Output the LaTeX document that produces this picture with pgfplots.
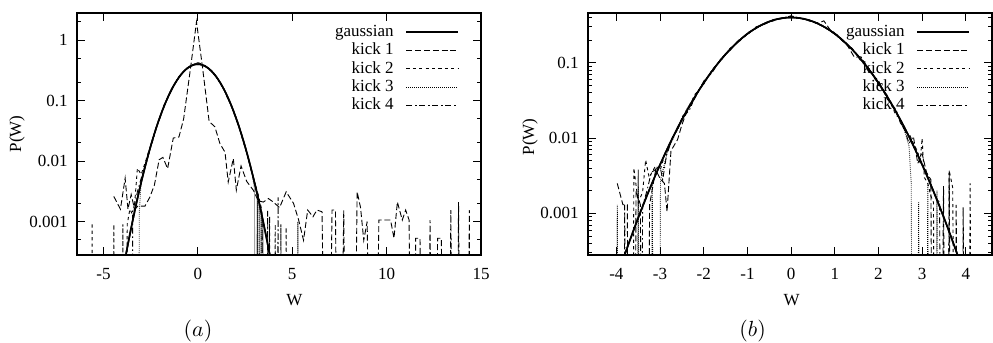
\documentclass[border=0pt]{standalone}
\usepackage[no-math]{fontspec}
\setmainfont{Liberation Serif}
\usepackage{pgfplots}
\usepackage{pgfplotstable}
\pgfplotsset{compat=1.18}

\pgfplotstableread{
W P
-4.0 0.000134
-3.9 0.000199
-3.8 0.000292
-3.7 0.000425
-3.6 0.000612
-3.5 0.000873
-3.4 0.001232
-3.3 0.001723
-3.2 0.002384
-3.1 0.003267
-3.0 0.004432
-2.9 0.00595
-2.8 0.00792
-2.7 0.01042
-2.6 0.01358
-2.5 0.01753
-2.4 0.02239
-2.3 0.02833
-2.2 0.03547
-2.1 0.04398
-2.0 0.05399
-1.9 0.06562
-1.8 0.07895
-1.7 0.09405
-1.6 0.11092
-1.5 0.12952
-1.4 0.14973
-1.3 0.17137
-1.2 0.19419
-1.1 0.21785
-1.0 0.24197
-0.9 0.26609
-0.8 0.28969
-0.7 0.31225
-0.6 0.33322
-0.5 0.35207
-0.4 0.36827
-0.3 0.38139
-0.2 0.39104
-0.1 0.39695
0.0 0.39894
0.1 0.39695
0.2 0.39104
0.3 0.38139
0.4 0.36827
0.5 0.35207
0.6 0.33322
0.7 0.31225
0.8 0.28969
0.9 0.26609
1.0 0.24197
1.1 0.21785
1.2 0.19419
1.3 0.17137
1.4 0.14973
1.5 0.12952
1.6 0.11092
1.7 0.09405
1.8 0.07895
1.9 0.06562
2.0 0.05399
2.1 0.04398
2.2 0.03547
2.3 0.02833
2.4 0.02239
2.5 0.01753
2.6 0.01358
2.7 0.01042
2.8 0.00792
2.9 0.00595
3.0 0.004432
3.1 0.003267
3.2 0.002384
3.3 0.001723
3.4 0.001232
3.5 0.000873
3.6 0.000612
3.7 0.000425
3.8 0.000292
3.9 0.000199
4.0 0.000134
}\gausstab

% ---------- panel (a) ----------
\pgfplotstableread{
W P
-4.45 0.0026
-4.1 0.0016
-3.85 0.0052
-3.7 0.0016
-3.53 0.0028
-3.35 0.0016
-3.17 0.0018
-2.8 0.0018
-2.55 0.0025
-2.3 0.004
-2.05 0.0105
-1.85 0.0115
-1.6 0.0075
-1.3 0.024
-1.0 0.025
-0.75 0.05
-0.4 0.32
-0.07 2.0
0.25 0.35
0.6 0.045
0.9 0.037
1.17 0.0195
1.44 0.014
1.61 0.0045
1.88 0.011
2.04 0.0033
2.29 0.0083
2.59 0.0046
2.94 0.0033
3.2 0.0022
3.47 0.0021
3.74 0.0024
4.0 0.0021
4.33 0.0017
4.68 0.0031
5.07 0.0020
5.34 0.00106
5.6 0.00049
5.82 0.00155
6.1 0.0012
6.31 0.00155
6.58 0.00145
6.85 1e-9
7.11 0.00155
7.29 0.00155
7.46 1e-9
7.73 0.00155
7.91 1e-9
8.2 1e-9
8.44 0.0031
8.62 0.0017
8.79 0.00049
8.97 0.001
9.24 1e-9
9.32 1e-9
9.59 0.00106
10.21 0.00106
10.39 0.00053
10.57 0.0021
10.83 0.00106
11.01 0.00155
11.19 0.00106
11.37 1e-9
11.45 1e-9
11.54 0.00053
11.77 0.00053
11.9 1e-9
12.2 1e-9
12.3 0.00106
12.48 1e-9
12.6 1e-9
12.7 0.00053
12.9 0.00053
13.05 1e-9
13.3 1e-9
13.4 0.00155
13.58 1e-9
13.7 1e-9
13.81 0.0021
13.94 1e-9
14.3 1e-9
14.38 0.00155
14.47 1e-9
}\kAone

\pgfplotstableread{
W P
-5.6 0.0009
-5.55 1e-9
-4.5 1e-9
-4.45 0.0009
-4.4 1e-9
-4.02 1e-9
-3.97 0.0009
-3.92 1e-9
-3.79 1e-9
-3.74 0.0009
-3.6 0.0016
-3.4 0.0012
-3.2 0.0076
-3.0 0.006
-2.8 0.0092
-2.6 0.0145
-2.4 0.021
-2.2 0.037
-2.0 0.052
-1.8 0.083
-1.6 0.108
-1.4 0.156
-1.2 0.19
-1.0 0.25
-0.8 0.29
-0.6 0.34
-0.4 0.37
-0.2 0.40
0 0.42
0.2 0.405
0.4 0.37
0.6 0.33
0.8 0.28
1.0 0.245
1.2 0.19
1.4 0.148
1.6 0.105
1.8 0.08
2.0 0.052
2.2 0.036
2.4 0.021
2.6 0.0135
2.8 0.0075
3.0 0.0045
3.2 0.0028
3.4 0.0015
3.5 1e-9
3.75 1e-9
3.8 0.0012
3.85 1e-9
4.05 1e-9
4.1 0.0009
4.15 1e-9
4.35 1e-9
4.4 0.0009
4.45 1e-9
4.63 1e-9
4.68 0.0008
4.73 1e-9
}\kAtwo

\pgfplotstableread{
W P
-3.15 1e-9
-3.1 0.0014
-3.0 0.0048
-2.8 0.0082
-2.6 0.0138
-2.4 0.0228
-2.2 0.035
-2.0 0.056
-1.8 0.077
-1.6 0.113
-1.4 0.148
-1.2 0.197
-1.0 0.238
-0.8 0.292
-0.6 0.33
-0.4 0.372
-0.2 0.39
0 0.43
0.2 0.39
0.4 0.365
0.6 0.335
0.8 0.29
1.0 0.24
1.2 0.195
1.4 0.152
1.6 0.11
1.8 0.078
2.0 0.055
2.2 0.035
2.4 0.023
2.6 0.0135
2.8 0.0078
2.9 0.0058
3.0 0.0035
3.05 1e-9
3.1 1e-9
3.15 0.0025
3.2 1e-9
3.25 0.0019
3.3 1e-9
3.35 0.0014
3.4 1e-9
3.45 0.0011
3.5 1e-9
5.25 1e-9
5.3 0.001
5.35 1e-9
}\kAthree

\pgfplotstableread{
W P
-3.5 1e-9
-3.45 0.0015
-3.3 0.0022
-3.2 0.0031
-3.0 0.0052
-2.8 0.0078
-2.6 0.0131
-2.4 0.022
-2.2 0.036
-2.0 0.053
-1.8 0.08
-1.6 0.11
-1.4 0.15
-1.2 0.192
-1.0 0.245
-0.8 0.287
-0.6 0.335
-0.4 0.365
-0.2 0.392
0 0.41
0.2 0.388
0.4 0.37
0.6 0.33
0.8 0.29
1.0 0.24
1.2 0.19
1.4 0.152
1.6 0.108
1.8 0.08
2.0 0.053
2.2 0.036
2.4 0.022
2.6 0.014
2.8 0.0078
3.0 0.0046
3.2 0.0026
3.3 0.0018
3.4 0.0013
3.45 1e-9
3.65 1e-9
3.7 0.0015
3.75 1e-9
4.2 1e-9
4.25 0.0025
4.3 1e-9
}\kAfour

% ---------- panel (b) ----------
\pgfplotstableread{
W P
-3.98 0.0025
-3.85 0.0013
-3.75 0.0013
-3.7 1e-9
-3.6 1e-9
-3.55 0.0020
-3.45 0.0013
-3.4 1e-9
-3.3 1e-9
-3.24 0.0013
-3.1 0.0038
-3.0 0.0029
-2.9 0.0025
-2.84 0.00105
-2.75 0.0068
-2.6 0.0095
-2.5 0.0150
-2.4 0.0215
-2.2 0.034
-2.0 0.057
-1.8 0.075
-1.6 0.115
-1.4 0.145
-1.2 0.2
-1.0 0.235
-0.8 0.3
-0.6 0.325
-0.4 0.375
-0.2 0.385
0.0 0.42
0.2 0.39
0.4 0.37
0.6 0.33
0.75 0.36
0.9 0.27
1.1 0.225
1.3 0.165
1.45 0.118
1.6 0.12
1.8 0.075
2.0 0.058
2.2 0.033
2.4 0.024
2.5 0.016
2.6 0.013
2.7 0.0085
2.8 0.0105
2.9 0.0046
3.0 0.0062
3.1 0.0035
3.2 0.0028
3.26 1e-9
3.4 1e-9
3.49 0.0023
3.55 1e-9
3.58 1e-9
3.62 0.0037
3.68 1e-9
3.74 1e-9
3.78 0.0013
3.84 1e-9
3.9 1e-9
3.94 0.0012
4.0 1e-9
}\kBone

\pgfplotstableread{
W P
-3.64 1e-9
-3.6 0.004
-3.5 0.0014
-3.4 0.0019
-3.33 0.0051
-3.25 0.0030
-3.1 0.0043
-3.0 0.0037
-2.9 0.0058
-2.8 0.0072
-2.7 0.011
-2.6 0.0125
-2.5 0.019
-2.4 0.022
-2.2 0.038
-2.0 0.052
-1.8 0.082
-1.6 0.108
-1.4 0.155
-1.2 0.188
-1.0 0.25
-0.8 0.285
-0.6 0.34
-0.4 0.36
-0.2 0.395
0 0.41
0.2 0.395
0.4 0.36
0.6 0.34
0.8 0.285
1.0 0.25
1.2 0.188
1.4 0.155
1.6 0.105
1.8 0.082
2.0 0.05
2.2 0.037
2.4 0.02
2.5 0.0185
2.6 0.012
2.7 0.0115
2.8 0.0085
2.9 0.0066
2.95 0.0045
3.0 0.0099
3.05 0.003
3.13 0.0025
3.2 0.0017
3.26 0.0014
3.3 1e-9
3.58 1e-9
3.62 0.0037
3.7 0.0022
3.78 1e-9
4.05 1e-9
4.1 0.0025
4.15 1e-9
}\kBtwo

\pgfplotstableread{
W P
-4.03 1e-9
-3.98 0.0013
-3.92 1e-9
-3.55 1e-9
-3.5 0.0038
-3.45 1e-9
-3.22 1e-9
-3.18 0.0025
-3.12 1e-9
-3.03 1e-9
-2.99 0.0028
-2.9 0.0045
-2.8 0.0078
-2.7 0.0098
-2.6 0.014
-2.5 0.0165
-2.4 0.0235
-2.2 0.036
-2.0 0.055
-1.8 0.078
-1.6 0.112
-1.4 0.148
-1.2 0.196
-1.0 0.24
-0.8 0.292
-0.6 0.33
-0.4 0.37
-0.2 0.39
0 0.40
0.2 0.39
0.4 0.365
0.6 0.335
0.8 0.29
1.0 0.24
1.2 0.195
1.4 0.15
1.6 0.11
1.8 0.079
2.0 0.055
2.2 0.035
2.4 0.023
2.5 0.0165
2.6 0.0125
2.7 0.0078
2.75 0.0025
2.8 1e-9
2.88 1e-9
2.92 0.0014
2.97 1e-9
3.09 1e-9
3.13 0.0025
3.17 1e-9
3.3 1e-9
3.34 0.002
3.38 1e-9
}\kBthree

\pgfplotstableread{
W P
-3.85 1e-9
-3.81 0.0013
-3.76 1e-9
-3.44 1e-9
-3.4 0.00125
-3.3 0.002
-3.2 0.0035
-3.0 0.0042
-2.94 0.0028
-2.85 0.006
-2.7 0.0105
-2.6 0.0128
-2.5 0.0185
-2.4 0.021
-2.3 0.025
-2.2 0.037
-2.0 0.053
-1.8 0.08
-1.6 0.11
-1.4 0.15
-1.2 0.192
-1.0 0.245
-0.8 0.287
-0.6 0.335
-0.4 0.365
-0.2 0.392
0 0.402
0.2 0.388
0.4 0.37
0.6 0.33
0.8 0.29
1.0 0.24
1.2 0.19
1.4 0.152
1.6 0.108
1.8 0.08
2.0 0.053
2.2 0.036
2.4 0.022
2.5 0.017
2.6 0.014
2.7 0.0105
2.8 0.0078
2.9 0.0062
3.0 0.0045
3.1 0.0035
3.2 0.0024
3.3 0.0017
3.4 0.0014
3.45 1e-9
}\kBfour

\newcommand{\gpfont}{\fontsize{8.5}{10}\selectfont}

\pgfplotsset{
  legend image code/.code={\draw[#1] (0pt,0pt) -- (25.7pt,0pt);},
}
\pgfplotsset{
  gauss/.style={black, line width=0.8pt},
  k1/.style={black, line width=0.45pt, dash pattern=on 3pt off 1.4pt},
  k2/.style={black, line width=0.45pt, dash pattern=on 1.6pt off 1.6pt},
  k3/.style={black, line width=0.45pt, dash pattern=on 0.4pt off 0.6pt},
  k4/.style={black, line width=0.45pt, dash pattern=on 3pt off 1.4pt on 0.7pt off 1.4pt},
}

\begin{document}
\begin{tikzpicture}
\useasboundingbox (0pt,0pt) rectangle (496.5pt,171.5pt);

\begin{axis}[
  scale only axis, ymode=log, anchor=south west,
  width=202pt, height=121pt, at={(38.5pt,44pt)},
  tick align=inside,
  major tick length=4pt, minor tick length=2pt,
  every tick/.append style={line width=0.5pt, black},
  axis line style={line width=0.6pt},
  tick label style={font=\gpfont},
  label style={font=\gpfont},
  xticklabel style={yshift=-3pt},
  yticklabel style={xshift=-1.2pt},
  legend plot pos=right, legend cell align=right,
  legend style={draw=none, fill=none, inner sep=0pt, at={(1,1)}, anchor=north east,
    xshift=-11pt, yshift=-5.1pt, font=\gpfont,
    nodes={inner sep=0.5pt, text height=6pt, text depth=1.5pt},
    row sep=0.65pt, column sep=5.5pt},
  xlabel={W}, ylabel={P(W)},
  ymin=2.8e-4,
  xmin=-6.4, xmax=15, ymax=2.8,
  xtick={-5,0,5,10,15}, xticklabels={-5,0,5,10,15},
  ytick={0.001,0.01,0.1,1}, yticklabels={0.001,0.01,0.1,1},
  minor ytick={5e-4,2e-3,5e-3,0.02,0.05,0.2,0.5,2},
  xlabel style={at={(axis description cs:0.538,0)}, anchor=center, yshift=-22.5pt},
  ylabel style={at={([xshift=-30pt]axis description cs:0,0.5)}, anchor=center},
]
\addplot[gauss] table {\gausstab};
\addlegendentry{gaussian}
\addplot[k1] table {\kAone};
\addlegendentry{kick 1}
\addplot[k2] table {\kAtwo};
\addlegendentry{kick 2}
\addplot[k3] table {\kAthree};
\addlegendentry{kick 3}
\addplot[k4] table {\kAfour};
\addlegendentry{kick 4}
\addplot[gauss, forget plot] table {\gausstab};
\end{axis}

\begin{axis}[
  scale only axis, ymode=log, anchor=south west,
  width=202pt, height=121pt, at={(294pt,44pt)},
  tick align=inside,
  major tick length=4pt, minor tick length=2pt,
  every tick/.append style={line width=0.5pt, black},
  axis line style={line width=0.6pt},
  tick label style={font=\gpfont},
  label style={font=\gpfont},
  xticklabel style={yshift=-3pt},
  yticklabel style={xshift=-1.2pt},
  legend plot pos=right, legend cell align=right,
  legend style={draw=none, fill=none, inner sep=0pt, at={(1,1)}, anchor=north east,
    xshift=-11pt, yshift=-5.1pt, font=\gpfont,
    nodes={inner sep=0.5pt, text height=6pt, text depth=1.5pt},
    row sep=0.65pt, column sep=5.5pt},
  xlabel={W}, ylabel={P(W)},
  ymin=2.8e-4,
  xmin=-4.65, xmax=4.6, ymax=0.457,
  xtick={-4,-3,-2,-1,0,1,2,3,4}, xticklabels={-4,-3,-2,-1,0,1,2,3,4},
  ytick={0.001,0.01,0.1}, yticklabels={0.001,0.01,0.1},
  minor ytick={3e-4,4e-4,5e-4,6e-4,7e-4,8e-4,9e-4,2e-3,3e-3,4e-3,5e-3,6e-3,7e-3,8e-3,9e-3,0.02,0.03,0.04,0.05,0.06,0.07,0.08,0.09,0.2,0.3,0.4},
  xlabel style={at={(axis description cs:0.504,0)}, anchor=center, yshift=-22.5pt},
  ylabel style={at={([xshift=-29pt]axis description cs:0,0.488)}, anchor=center},
]
\addplot[gauss] table {\gausstab};
\addlegendentry{gaussian}
\addplot[k1] table {\kBone};
\addlegendentry{kick 1}
\addplot[k2] table {\kBtwo};
\addlegendentry{kick 2}
\addplot[k3] table {\kBthree};
\addlegendentry{kick 3}
\addplot[k4] table {\kBfour};
\addlegendentry{kick 4}
\addplot[gauss, forget plot] table {\gausstab};
\end{axis}

\node[font=\fontsize{11}{13}\selectfont] at (99pt,6.1pt) {$(a)$};
\node[font=\fontsize{11}{13}\selectfont] at (376.3pt,6.1pt) {$(b)$};
\end{tikzpicture}
\end{document}
